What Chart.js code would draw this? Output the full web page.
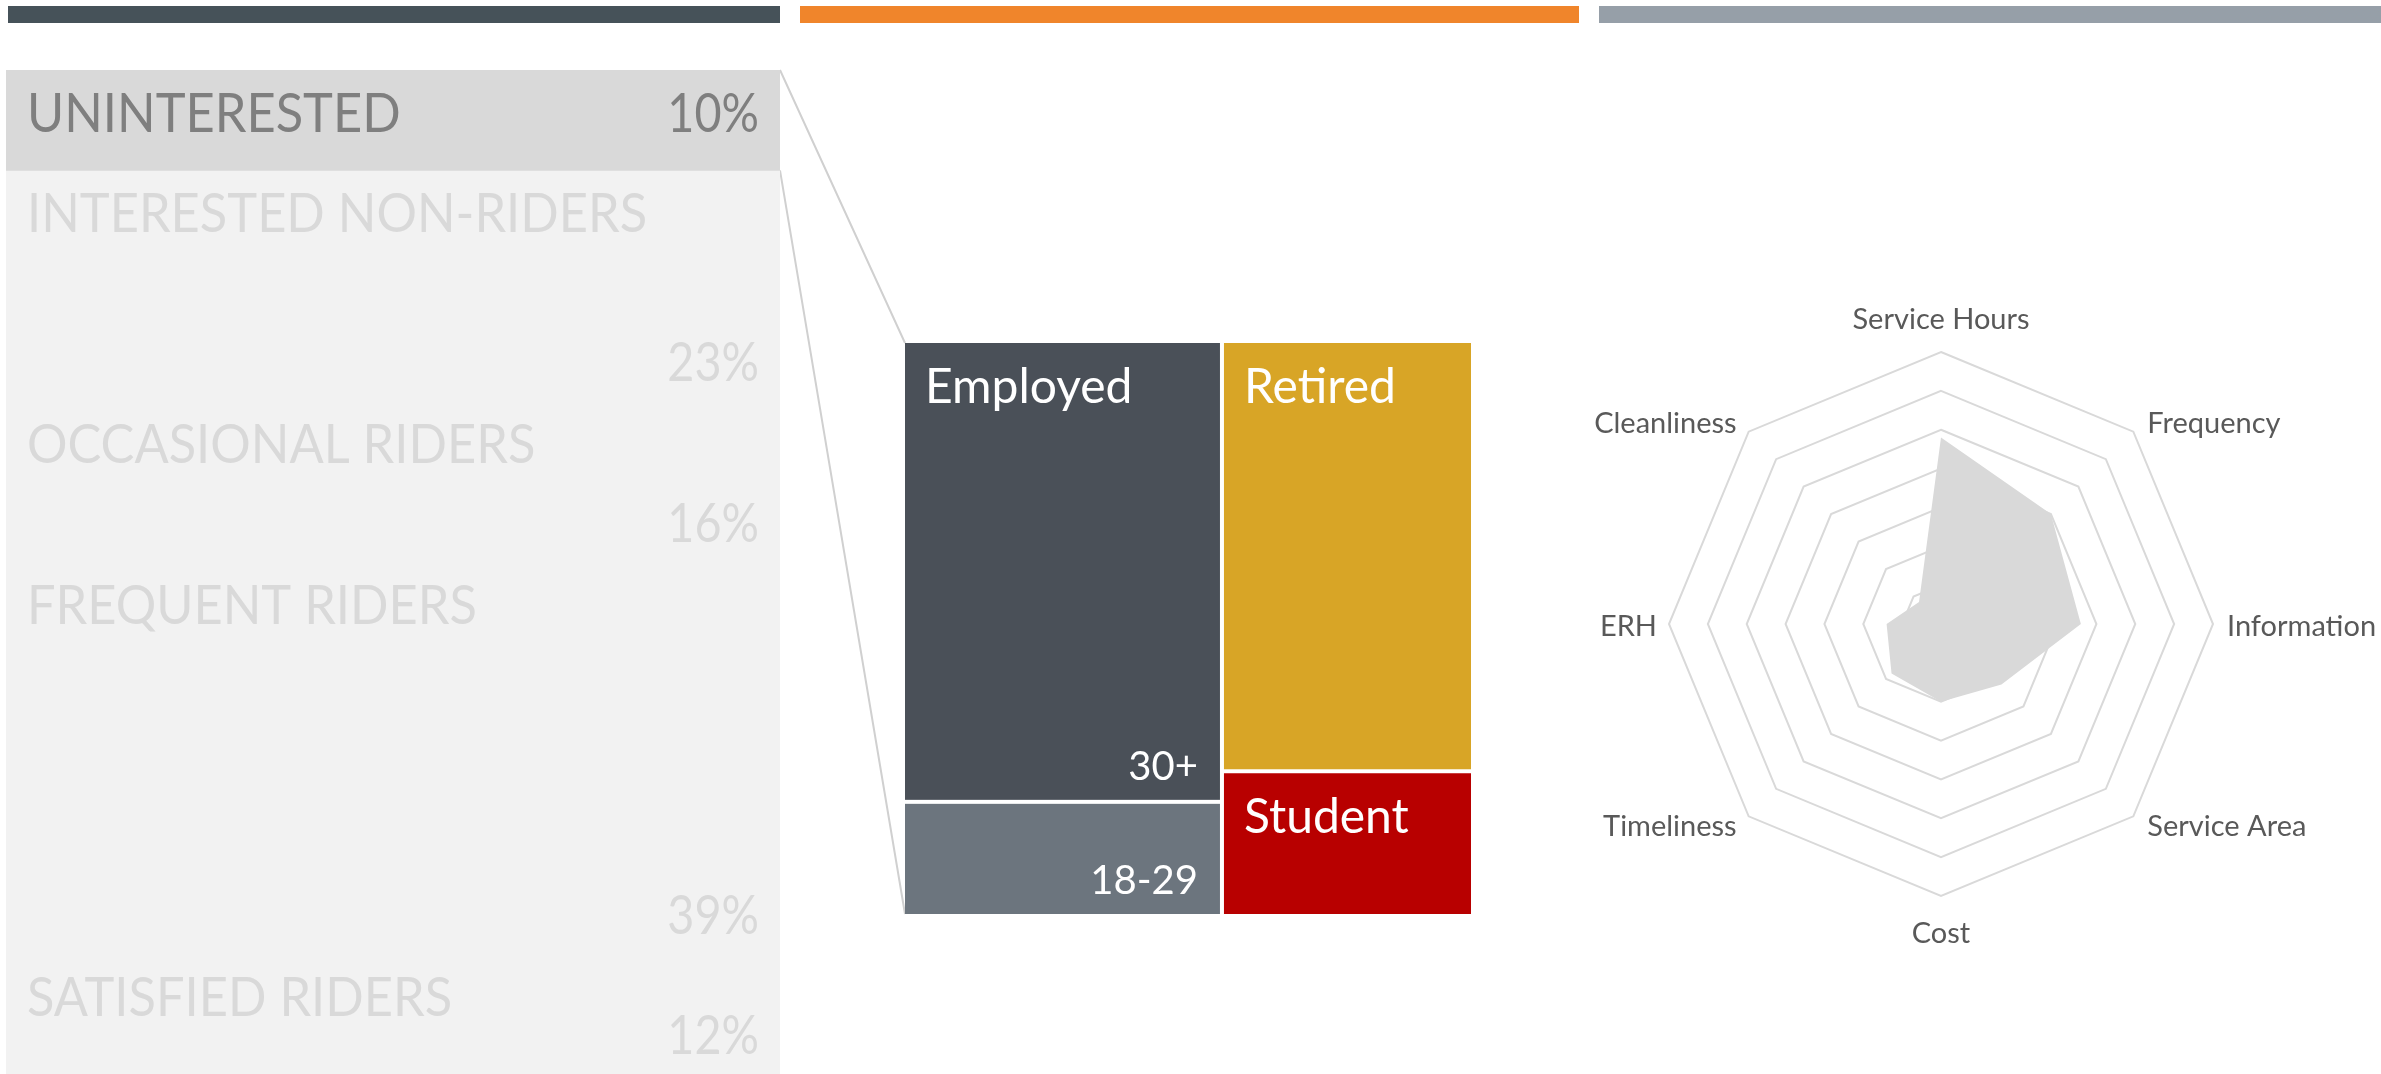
<!DOCTYPE html>
<html>
<head>
<meta charset="utf-8">
<script src="https://cdn.jsdelivr.net/npm/chart.js@4.4.1/dist/chart.umd.min.js"></script>
<style>
  body { margin: 0; background: #fff; width: 2381px; height: 1074px; position: relative; overflow: hidden; }
  .strip { position: absolute; top: 6px; height: 17px; }
  canvas { position: absolute; }
</style>
</head>
<body>
<div class="strip" style="left:8px;width:772px;background:#465259"></div>
<div class="strip" style="left:800px;width:779px;background:#F0852B"></div>
<div class="strip" style="left:1599px;width:782px;background:#969FA8"></div>

<canvas id="links" width="2381" height="1074" style="left:0;top:0"></canvas>
<canvas id="segChart" width="774" height="1004" style="left:6px;top:70px"></canvas>
<canvas id="treeChart" width="566" height="571" style="left:905px;top:343px"></canvas>
<canvas id="radarChart" width="841" height="760" style="left:1540px;top:250px"></canvas>

<script>
// rider segments (share of respondents, %)
const segments = ['UNINTERESTED', 'INTERESTED NON-RIDERS', 'OCCASIONAL RIDERS', 'FREQUENT RIDERS', 'SATISFIED RIDERS'];
const segmentShare = [10, 23, 16, 39, 12];
const segmentColors = ['#D9D9D9', '#F2F2F2', '#F2F2F2', '#F2F2F2', '#F2F2F2'];
const segmentTextColors = ['#7F7F7F', '#D9D9D9', '#D9D9D9', '#D9D9D9', '#D9D9D9'];

// profile of the uninterested group (treemap)
const tileNames = ['Employed', '', 'Retired', 'Student'];
const tileAges = ['30+', '18-29', '', ''];
const tileColumn = [0, 0, 1, 1];
const tileShare = [45, 11, 33, 11];
const tileColors = ['#4A5058', '#6C757E', '#D8A526', '#B80000'];

// what matters to them (radar)
const factors = ['Service Hours', 'Frequency', 'Information', 'Service Area', 'Cost', 'Timeliness', 'ERH', 'Cleanliness'];
const importance = [24, 20, 18, 11, 10, 9, 7, 4];

Chart.defaults.font.family = 'Lato';

// the original face is a bit narrower than Lato
function narrowText(ctx, text, x, y, squeeze) {
    ctx.fillText(text, x, y, ctx.measureText(text).width * squeeze);
}

const segmentLabels = {
    id: 'segmentLabels',
    afterDatasetsDraw(chart) {
        const ctx = chart.ctx;
        const area = chart.chartArea;
        ctx.save();
        ctx.font = '55px Lato';
        ctx.textBaseline = 'alphabetic';
        segments.forEach((name, i) => {
            const bar = chart.getDatasetMeta(i).data[0];
            const top = Math.min(bar.y, bar.base);
            const bottom = Math.max(bar.y, bar.base);
            ctx.fillStyle = segmentTextColors[i];
            ctx.textAlign = 'left';
            narrowText(ctx, name, area.left + 21, top + 62, 0.92);
            ctx.textAlign = 'right';
            const py = (bottom - top < 110) ? top + 62 : bottom - 20;
            narrowText(ctx, segmentShare[i] + '%', area.right - 21, py, 0.85);
        });
        ctx.restore();
    }
};

const segChart = new Chart(document.getElementById('segChart'), {
    type: 'bar',
    data: {
        labels: ['Respondents'],
        datasets: segments.map((s, i) => ({
            label: s,
            data: [segmentShare[i]],
            backgroundColor: segmentColors[i],
            borderWidth: 0,
            categoryPercentage: 1,
            barPercentage: 1
        }))
    },
    options: {
        responsive: false,
        animation: false,
        devicePixelRatio: 1,
        layout: { padding: 0 },
        plugins: { legend: { display: false }, tooltip: { enabled: false } },
        scales: {
            x: { stacked: true, display: false },
            y: { stacked: true, display: false, min: 0, max: 100, reverse: true }
        }
    },
    plugins: [segmentLabels]
});

// slice-and-dice treemap drawn through the chart's x/y scales
const treemapTiles = {
    id: 'treemapTiles',
    afterDraw(chart) {
        const ctx = chart.ctx;
        const xs = chart.scales.x, ys = chart.scales.y;
        const total = tileShare.reduce((a, b) => a + b, 0);
        const colTotals = [0, 0];
        tileShare.forEach((v, i) => colTotals[tileColumn[i]] += v);
        const colStart = [0, colTotals[0] / total * 100];
        const colY = [0, 0];
        const gap = 2;
        ctx.save();
        tileShare.forEach((v, i) => {
            const c = tileColumn[i];
            const x0 = colStart[c];
            const x1 = x0 + colTotals[c] / total * 100;
            const y0 = colY[c];
            const y1 = y0 + v / colTotals[c] * 100;
            colY[c] = y1;
            let L = xs.getPixelForValue(x0), R = xs.getPixelForValue(x1);
            let T = ys.getPixelForValue(y0), B = ys.getPixelForValue(y1);
            if (x0 > 0) L += gap;
            if (x1 < 100) R -= gap;
            if (y0 > 0) T += gap;
            if (y1 < 100) B -= gap;
            ctx.fillStyle = tileColors[i];
            ctx.fillRect(L, T, R - L, B - T);
            ctx.fillStyle = '#FFFFFF';
            if (tileNames[i]) {
                ctx.font = '48px Lato';
                ctx.textAlign = 'left';
                ctx.fillText(tileNames[i], L + 20, T + 60);
            }
            if (tileAges[i]) {
                ctx.font = '40px Lato';
                ctx.textAlign = 'right';
                ctx.fillText(tileAges[i], R - 22, B - 20);
            }
        });
        ctx.restore();
    }
};

const treeChart = new Chart(document.getElementById('treeChart'), {
    type: 'bar',
    data: { datasets: [] },
    options: {
        responsive: false,
        animation: false,
        devicePixelRatio: 1,
        layout: { padding: 0 },
        plugins: { legend: { display: false }, tooltip: { enabled: false } },
        scales: {
            x: { type: 'linear', min: 0, max: 100, offset: false, display: false },
            y: { type: 'linear', min: 0, max: 100, offset: false, reverse: true, display: false }
        }
    },
    plugins: [treemapTiles]
});

const radarLabels = {
    id: 'radarLabels',
    afterDraw(chart) {
        const ctx = chart.ctx;
        const r = chart.scales.r;
        ctx.save();
        ctx.font = '29px Lato';
        ctx.fillStyle = '#595959';
        ctx.textBaseline = 'middle';
        factors.forEach((name, i) => {
            const p = r.getPointPosition(i, r.drawingArea);
            const dx = p.x - r.xCenter, dy = p.y - r.yCenter;
            let x = p.x, y = p.y;
            if (Math.abs(dx) < 1) {
                ctx.textAlign = 'center';
                y += dy < 0 ? -32 : 38;
            } else {
                ctx.textAlign = dx > 0 ? 'left' : 'right';
                x += dx > 0 ? 14 : -12;
                y += Math.abs(dy) < 1 ? 3 : (dy < 0 ? -8 : 10);
            }
            ctx.fillText(name, x, y);
        });
        ctx.restore();
    }
};

const radarChart = new Chart(document.getElementById('radarChart'), {
    type: 'radar',
    data: {
        labels: factors,
        datasets: [{
            label: 'Importance',
            data: importance,
            backgroundColor: '#D9D9D9',
            borderColor: '#D9D9D9',
            borderWidth: 0,
            pointRadius: 0,
            fill: true
        }]
    },
    options: {
        responsive: false,
        animation: false,
        devicePixelRatio: 1,
        layout: { padding: { left: 129, right: 168, top: 102, bottom: 114 } },
        plugins: { legend: { display: false }, tooltip: { enabled: false } },
        scales: {
            r: {
                min: 0,
                max: 35,
                ticks: { stepSize: 5, display: false },
                grid: { color: '#D9D9D9', lineWidth: 2 },
                angleLines: { display: false },
                pointLabels: { display: false }
            }
        }
    },
    plugins: [radarLabels]
});

// connector lines from the uninterested band to the treemap
function drawLinks() {
    const ctx = document.getElementById('links').getContext('2d');
    const segCv = segChart.canvas, treeCv = treeChart.canvas;
    const band = segChart.getDatasetMeta(0).data[0];
    const bx = segCv.offsetLeft + band.x + band.width / 2;
    const bTop = segCv.offsetTop + Math.min(band.y, band.base);
    const bBot = segCv.offsetTop + Math.max(band.y, band.base);
    const area = treeChart.chartArea;
    const tx = treeCv.offsetLeft + area.left;
    ctx.strokeStyle = '#D0D0D0';
    ctx.lineWidth = 2;
    ctx.beginPath();
    ctx.moveTo(bx, bTop);
    ctx.lineTo(tx, treeCv.offsetTop + area.top);
    ctx.moveTo(bx, bBot);
    ctx.lineTo(tx, treeCv.offsetTop + area.bottom);
    ctx.stroke();
}
drawLinks();
</script>
</body>
</html>
